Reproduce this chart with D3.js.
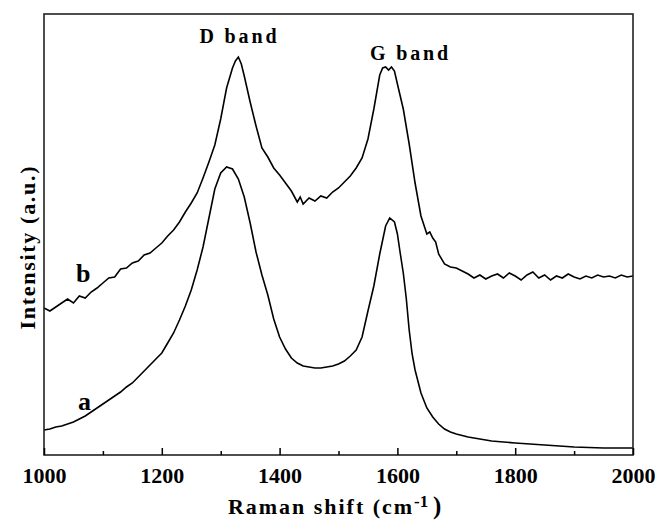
<!DOCTYPE html>
<html>
<head>
<meta charset="utf-8">
<script src="https://cdn.jsdelivr.net/npm/d3@7"></script>
<style>
  html, body { margin: 0; padding: 0; background: #fff; }
  svg { display: block; }
  text { font-family: "Liberation Serif", "Times New Roman", serif; font-weight: bold; fill: #000; }
</style>
</head>
<body>
<svg id="chart" width="658" height="521"></svg>
<script>
// Raman shift (cm^-1) and intensity (a.u.)
const shiftA = [1000,1010,1020,1030,1040,1050,1060,1070,1080,1090,1100,1110,1120,1130,1140,1150,1160,1170,1180,1190,1200,1210,1220,1230,1240,1250,1260,1270,1280,1290,1300,1310,1320,1330,1340,1350,1360,1370,1380,1390,1400,1410,1420,1430,1440,1450,1460,1470,1480,1490,1500,1510,1520,1530,1540,1550,1560,1570,1580,1587,1595,1600,1605,1610,1615,1620,1625,1630,1640,1650,1660,1670,1680,1690,1700,1720,1740,1760,1780,1800,1850,1900,1950,2000];
const intensityA = [24,25,27,28,30,32,35,38,42,46,50,54,58,62,67,71,77,83,89,95,101,111,121,134,148,164,184,207,236,265,281,287,285,275,257,231,202,179,159,135,117,105,96,91,88,87,86,86,87,88,90,93,98,104,117,143,168,200,228,236,232,220,200,181,156,124,100,84,61,46,37,30,25,22,20,17,15,13,12,11,9,7,6,6];

const shiftB = [1000,1010,1020,1030,1040,1050,1060,1070,1080,1090,1100,1110,1120,1130,1140,1150,1160,1170,1180,1190,1200,1210,1220,1230,1240,1250,1260,1270,1280,1290,1300,1310,1320,1325,1330,1335,1340,1350,1360,1370,1380,1390,1400,1410,1420,1430,1435,1440,1450,1460,1470,1480,1490,1500,1510,1520,1530,1540,1550,1560,1570,1575,1580,1585,1590,1595,1600,1610,1620,1630,1640,1650,1655,1660,1665,1670,1680,1690,1700,1710,1720,1730,1740,1750,1760,1770,1780,1790,1800,1810,1820,1830,1840,1850,1860,1870,1880,1890,1900,1910,1920,1930,1940,1950,1960,1970,1980,1990,2000];
const intensityB = [146,143,147,151,155,151,158,156,162,166,171,176,177,185,186,191,193,199,201,206,211,218,224,232,242,251,261,276,292,309,335,366,386,393,397,390,378,352,328,306,297,286,279,271,263,252,257,250,256,253,258,256,262,266,272,278,286,296,315,345,379,386,387,384,387,383,370,345,310,271,238,220,222,216,212,200,190,187,186,183,180,176,179,175,178,180,176,181,178,174,179,182,176,179,174,178,176,180,177,175,178,176,179,177,178,176,179,177,178];

const majorTicks = [1000,1200,1400,1600,1800,2000];
const minorTicks = [1100,1300,1500,1700,1900];

const svg = d3.select("#chart");
const mLeft = 44, mRight = 633, mTop = 14, mBottom = 455;

const x = d3.scaleLinear().domain([1000, 2000]).range([mLeft, mRight]);
const y = d3.scaleLinear().domain([-1, 440]).range([mBottom, mTop]);

// curves
const line = d3.line().x(d => x(d[0])).y(d => y(d[1]));
const dataA = shiftA.map((s, i) => [s, intensityA[i]]);
const dataB = shiftB.map((s, i) => [s, intensityB[i]]);

svg.append("path").datum(dataA).attr("d", line)
  .attr("fill", "none").attr("stroke", "#000").attr("stroke-width", 1.6);
svg.append("path").datum(dataB).attr("d", line)
  .attr("fill", "none").attr("stroke", "#000").attr("stroke-width", 1.6);

// frame
svg.append("rect").attr("x", mLeft).attr("y", mTop)
  .attr("width", mRight - mLeft).attr("height", mBottom - mTop)
  .attr("fill", "none").attr("stroke", "#222").attr("stroke-width", 1.6);

// bottom axis, major ticks with labels
const axMajor = d3.axisBottom(x).tickValues(majorTicks).tickSizeInner(-7).tickSizeOuter(0).tickFormat(d3.format("d"));
const gMaj = svg.append("g").attr("transform", `translate(0,${mBottom})`).call(axMajor);
gMaj.select(".domain").remove();
gMaj.selectAll(".tick line").attr("stroke", "#000").attr("stroke-width", 1.5);
gMaj.selectAll(".tick text").attr("y", 28).attr("dy", 0)
  .style("font-family", "'Liberation Serif', serif").style("font-weight", "bold").style("font-size", "22px").attr("fill", "#000");

const axMinor = d3.axisBottom(x).tickValues(minorTicks).tickSizeInner(-4).tickSizeOuter(0).tickFormat("");
const gMin = svg.append("g").attr("transform", `translate(0,${mBottom})`).call(axMinor);
gMin.select(".domain").remove();
gMin.selectAll(".tick line").attr("stroke", "#000").attr("stroke-width", 1.5);

// annotations
svg.append("text").attr("x", 238).attr("y", 43).attr("text-anchor", "middle")
  .style("font-size", "20px").attr("textLength", 77).attr("lengthAdjust", "spacing").text("D band");
svg.append("text").attr("x", 409).attr("y", 60).attr("text-anchor", "middle")
  .style("font-size", "20px").attr("textLength", 78).attr("lengthAdjust", "spacing").text("G band");
svg.append("text").attr("x", 76).attr("y", 282).style("font-size", "26px").text("b");
svg.append("text").attr("x", 78).attr("y", 410).style("font-size", "26px").text("a");

// x axis title
svg.append("text").attr("x", 228).attr("y", 514).style("font-size", "22px")
  .attr("textLength", 184).attr("lengthAdjust", "spacing").text("Raman shift (cm");
svg.append("text").attr("x", 414).attr("y", 507).style("font-size", "17px").text("-1");
svg.append("text").attr("x", 433).attr("y", 514).style("font-size", "25px").text(")");

// y axis title
svg.append("text").attr("transform", "translate(35,248) rotate(-90)").attr("text-anchor", "middle")
  .style("font-size", "22px").attr("textLength", 163).attr("lengthAdjust", "spacing").text("Intensity (a.u.)");
</script>
</body>
</html>
